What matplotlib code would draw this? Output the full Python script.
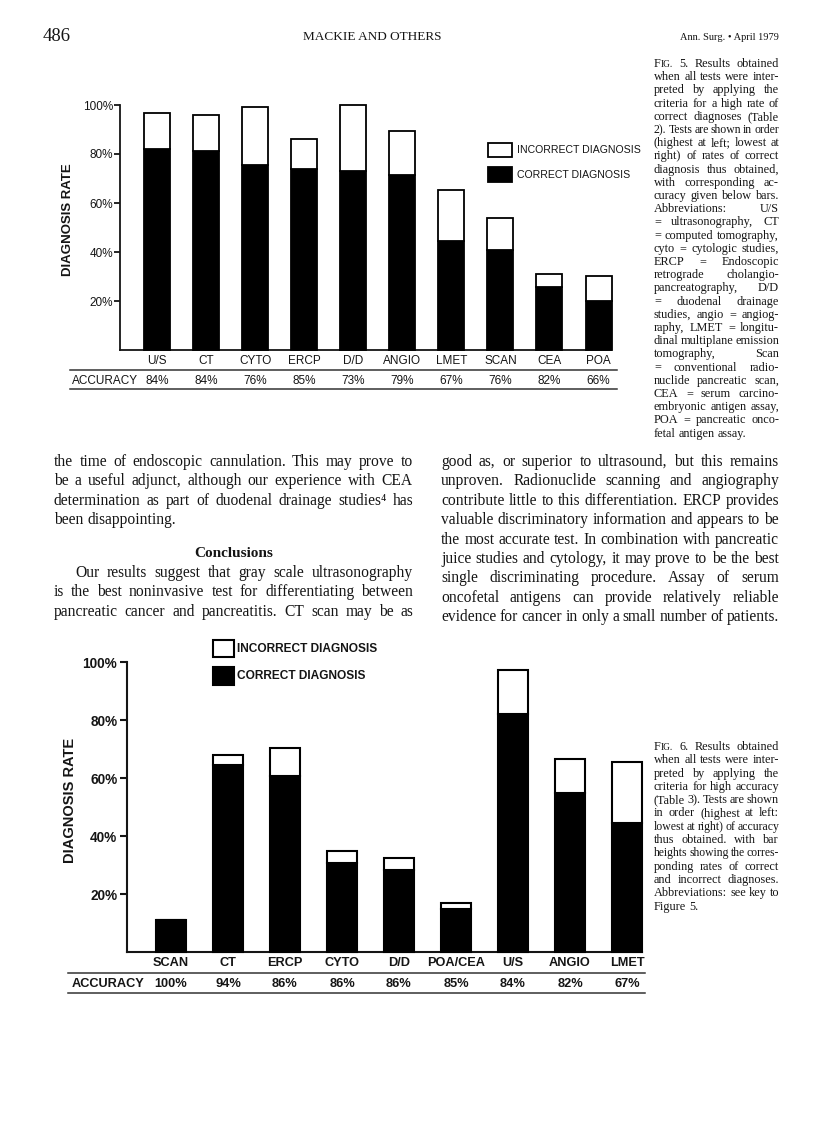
import numpy as np
import matplotlib
matplotlib.use("Agg")
import matplotlib.pyplot as plt
import matplotlib.transforms as mtransforms
from matplotlib.lines import Line2D
from matplotlib.patches import Rectangle

W, H = 816, 1140
ink = "#151515"
serif = ["Liberation Serif", "DejaVu Serif"]
sans = ["Liberation Sans", "DejaVu Sans"]

# ---- data ----
f5_tests = ["U/S", "CT", "CYTO", "ERCP", "D/D", "ANGIO", "LMET", "SCAN", "CEA", "POA"]
f5_correct = [82.2, 81.1, 75.5, 73.9, 73.2, 71.5, 44.3, 41.0, 25.8, 20.2]
f5_total = [96.9, 96.1, 99.2, 86.1, 100.0, 89.3, 65.4, 53.7, 31.0, 30.4]
f5_accuracy = ["84%", "84%", "76%", "85%", "73%", "79%", "67%", "76%", "82%", "66%"]

f6_tests = ["SCAN", "CT", "ERCP", "CYTO", "D/D", "POA/CEA", "U/S", "ANGIO", "LMET"]
f6_correct = [11.2, 64.6, 60.8, 30.6, 28.3, 14.9, 81.9, 55.0, 44.6]
f6_total = [11.2, 68.0, 70.4, 34.9, 32.5, 17.0, 97.1, 66.7, 65.4]
f6_accuracy = ["100%", "94%", "86%", "86%", "86%", "85%", "84%", "82%", "67%"]

pct_ticks = [20, 40, 60, 80, 100]
legend_labels = ["INCORRECT DIAGNOSIS", "CORRECT DIAGNOSIS"]

left_col = [
    "the time of endoscopic cannulation. This may prove to",
    "be a useful adjunct, although our experience with CEA",
    "determination as part of duodenal drainage studies\u2074 has",
    "been disappointing.",
]
left_col2 = [
    "Our results suggest that gray scale ultrasonography",
    "is the best noninvasive test for differentiating between",
    "pancreatic cancer and pancreatitis. CT scan may be as",
]
right_col = [
    "good as, or superior to ultrasound, but this remains",
    "unproven. Radionuclide scanning and angiography",
    "contribute little to this differentiation. ERCP provides",
    "valuable discriminatory information and appears to be",
    "the most accurate test. In combination with pancreatic",
    "juice studies and cytology, it may prove to be the best",
    "single discriminating procedure. Assay of serum",
    "oncofetal antigens can provide relatively reliable",
    "evidence for cancer in only a small number of patients.",
]
cap5 = [
    "FIG. 5. Results obtained", "when all tests were inter-",
    "preted by applying the", "criteria for a high rate of",
    "correct diagnoses (Table", "2). Tests are shown in order",
    "(highest at left; lowest at", "right) of rates of correct",
    "diagnosis thus obtained,", "with corresponding ac-",
    "curacy given below bars.", "Abbreviations: U/S",
    "= ultrasonography, CT", "= computed tomography,",
    "cyto = cytologic studies,", "ERCP = Endoscopic",
    "retrograde cholangio-", "pancreatography, D/D",
    "= duodenal drainage", "studies, angio = angiog-",
    "raphy, LMET = longitu-", "dinal multiplane emission",
    "tomography, Scan", "= conventional radio-",
    "nuclide pancreatic scan,", "CEA = serum carcino-",
    "embryonic antigen assay,", "POA = pancreatic onco-",
    "fetal antigen assay.",
]
cap6 = [
    "FIG. 6. Results obtained", "when all tests were inter-",
    "preted by applying the", "criteria for high accuracy",
    "(Table 3). Tests are shown", "in order (highest at left:",
    "lowest at right) of accuracy", "thus obtained. with bar",
    "heights showing the corres-", "ponding rates of correct",
    "and incorrect diagnoses.", "Abbreviations: see key to",
    "Figure 5.",
]

fig = plt.figure(figsize=(W / 100, H / 100), dpi=100)
fig.patch.set_facecolor("white")
rend = fig.canvas.get_renderer()


def fx(x):
    return x / W


def fy(y):
    return 1 - y / H


def segs(word):
    # small caps for "FIG."
    if word == "FIG.":
        return [("F", 1.0), ("IG.", 0.78)]
    return [(word, 1.0)]


def width_of(s, size, weight="normal"):
    t = fig.text(0, 0, s, fontsize=size, family=serif, fontweight=weight)
    w = t.get_window_extent(renderer=rend).width
    t.remove()
    return w


def word_w(word, size, weight):
    return sum(width_of(s, size * k, weight) for s, k in segs(word))


def put_line(line, x0, x1, y, size, justify=True, weight="normal"):
    words = line.split()
    avail = x1 - x0
    em = size * 100 / 72
    for _ in range(3):
        ws = [word_w(w, size, weight) for w in words]
        need = sum(ws) + 0.14 * em * (len(words) - 1)
        if need <= avail:
            break
        size *= avail / need
        em = size * 100 / 72
    if justify and len(words) > 1:
        gap = (avail - sum(ws)) / (len(words) - 1)
    else:
        gap = 0.25 * em
    x = x0
    for w, ww in zip(words, ws):
        xx = x
        for s, k in segs(w):
            fig.text(fx(xx), fy(y), s, fontsize=size * k, family=serif,
                     fontweight=weight, color=ink, ha="left", va="baseline")
            xx += width_of(s, size * k, weight)
        x += ww + gap


def chart(tests, correct, total, accuracy, ax_px, c0, step, bw, lab_y, acc_y,
          rule_x, rule_y, ylab_xy, leg, st):
    x0, y0, x1, y1 = ax_px
    ax = fig.add_axes([fx(x0), fy(y1), (x1 - x0) / W, (y1 - y0) / H])
    pos = np.arange(len(tests))
    inc = np.array(total) - np.array(correct)
    ax.bar(pos, correct, bw / step, color="black", edgecolor="black",
           lw=st["lw"], clip_on=False, zorder=3)
    ax.bar(pos, inc, bw / step, bottom=correct, color="white",
           edgecolor="black", lw=st["lw"], clip_on=False, zorder=3)
    ax.set_xlim((x0 - c0) / step, (x1 - c0) / step)
    ax.set_ylim(0, 100)
    for s in ["top", "right"]:
        ax.spines[s].set_visible(False)
    for s in ["left", "bottom"]:
        ax.spines[s].set_linewidth(st["spine"])
        ax.spines[s].set_color(ink)
    ax.set_xticks([])
    ax.set_yticks(pct_ticks, [f"{v}%" for v in pct_ticks])
    ax.tick_params(axis="y", direction="out", length=st["tick"], width=st["spine"],
                   pad=st["pad"], labelsize=st["ticksize"], colors=ink)
    for lab in ax.get_yticklabels():
        lab.set_family(sans)
        lab.set_fontweight(st["weight"])
    ax.patch.set_alpha(0)

    tr = mtransforms.blended_transform_factory(ax.transData, fig.transFigure)
    for i in pos:
        ax.text(i, fy(lab_y), tests[i], transform=tr, ha="center", va="center",
                fontsize=st["labsize"], family=sans, fontweight=st["weight"], color=ink)
        ax.text(i, fy(acc_y), accuracy[i], transform=tr, ha="center", va="center",
                fontsize=st["labsize"], family=sans, fontweight=st["weight"], color=ink)
    fig.text(fx(72), fy(acc_y), "ACCURACY", ha="left", va="center",
             fontsize=st["labsize"], family=sans, fontweight=st["weight"], color=ink)
    for yy in rule_y:
        fig.add_artist(Line2D([fx(rule_x[0]), fx(rule_x[1])], [fy(yy), fy(yy)],
                              transform=fig.transFigure, color="#333333", lw=1.1))
    fig.text(fx(ylab_xy[0]), fy(ylab_xy[1]), "DIAGNOSIS RATE", rotation=90,
             ha="center", va="center", fontsize=st["ylabsize"], family=sans,
             fontweight=st["ylabweight"], color=ink)

    lx0, lx1, boxes, tx = leg
    for (by0, by1), fc, txt in zip(boxes, ["white", "black"], legend_labels):
        fig.add_artist(Rectangle((fx(lx0), fy(by1)), (lx1 - lx0) / W, (by1 - by0) / H,
                                 transform=fig.transFigure, facecolor=fc,
                                 edgecolor="black", lw=st["lw"]))
        fig.text(fx(tx), fy((by0 + by1) / 2), txt, ha="left", va="center",
                 fontsize=st["legsize"], family=sans, fontweight=st["weight"], color=ink)
    return ax


st5 = dict(lw=1.3, spine=1.3, tick=4.0, pad=1.0, ticksize=8.5, labsize=8.5,
           ylabsize=9.5, ylabweight="semibold", legsize=7.6, weight="normal")
st6 = dict(lw=1.5, spine=1.5, tick=5.0, pad=2.0, ticksize=9.8, labsize=9.2,
           ylabsize=10.5, ylabweight="bold", legsize=8.6, weight="bold")

chart(f5_tests, f5_correct, f5_total, f5_accuracy, (120, 105, 611, 350),
      157, 49.06, 26, 361, 381, (70, 617), (370, 389), (68, 220),
      (488, 512, [(143, 157), (167, 182)], 517), st5)
chart(f6_tests, f6_correct, f6_total, f6_accuracy, (127, 662, 642, 952),
      171, 57.0, 30, 963, 984, (68, 645), (973, 993), (70, 800),
      (213, 234, [(640, 657), (667, 685)], 237), st6)

# ---- running head ----
fig.text(fx(43), fy(41), "486", fontsize=13.5, family=serif, color=ink, va="baseline")
fig.text(fx(372), fy(40), "MACKIE AND OTHERS", fontsize=9.5, family=serif,
         color=ink, ha="center", va="baseline")
fig.text(fx(779), fy(40), "Ann. Surg. \u2022 April 1979", fontsize=7.5,
         family=serif, color=ink, ha="right", va="baseline")

# ---- captions ----
cx0, cx1 = 654, 779
for i, line in enumerate(cap5):
    put_line(line, cx0, cx1, 67 + i * 13.2, 8.8, justify=i < len(cap5) - 1)
for i, line in enumerate(cap6):
    put_line(line, cx0, cx1, 750 + i * 13.3, 8.8, justify=i < len(cap6) - 1)

# ---- body text ----
lx0, lx1 = 54, 413
for i, line in enumerate(left_col):
    put_line(line, lx0, lx1, 466 + i * 19.4, 11.2, justify=i < len(left_col) - 1)
fig.text(fx((lx0 + lx1) / 2), fy(557), "Conclusions", fontsize=11.0, family=serif,
         fontweight="bold", color=ink, ha="center", va="baseline")
for i, line in enumerate(left_col2):
    put_line(line, lx0 + (21 if i == 0 else 0), lx1, 577 + i * 19.4, 11.2)
rx0, rx1 = 441, 779
for i, line in enumerate(right_col):
    put_line(line, rx0, rx1, 466 + i * 19.4, 11.2)

fig.savefig("out.png", dpi=100, facecolor="white")
